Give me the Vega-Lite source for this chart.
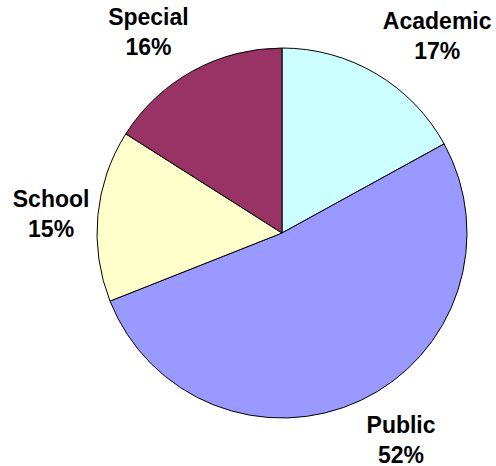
{
  "$schema": "https://vega.github.io/schema/vega-lite/v6.json",
  "width": 428,
  "height": 466,
  "autosize": "none",
  "padding": {"left": 68, "top": 0, "right": 0, "bottom": 0},
  "background": "white",
  "view": {"stroke": null},
  "data": {
    "values": [
      {"idx": 1, "category": "Academic", "value": 17, "label": "Academic\n17%"},
      {"idx": 2, "category": "Public", "value": 52, "label": "Public\n52%"},
      {"idx": 3, "category": "School", "value": 15, "label": "School\n15%"},
      {"idx": 4, "category": "Special", "value": 16, "label": "Special\n16%"}
    ]
  },
  "encoding": {
    "theta": {"field": "value", "type": "quantitative", "stack": true},
    "order": {"field": "idx", "type": "quantitative"}
  },
  "layer": [
    {
      "mark": {"type": "arc", "outerRadius": 185, "stroke": "black", "strokeWidth": 1},
      "encoding": {
        "color": {
          "field": "category",
          "type": "nominal",
          "scale": {
            "domain": ["Academic", "Public", "School", "Special"],
            "range": ["#CCFFFF", "#9999FF", "#FFFFCC", "#993366"]
          },
          "legend": null
        }
      }
    },
    {
      "mark": {"type": "text", "radius": 242, "dx": 32, "dy": -3, "lineBreak": "\n", "lineHeight": 30, "font": "Liberation Sans", "fontWeight": "bold", "fontSize": 23, "color": "black"},
      "encoding": {"text": {"condition": {"test": "datum.category == 'Academic'", "field": "label"}, "value": ""}}
    },
    {
      "mark": {"type": "text", "radius": 242, "dx": 16, "dy": -26, "lineBreak": "\n", "lineHeight": 30, "font": "Liberation Sans", "fontWeight": "bold", "fontSize": 23, "color": "black"},
      "encoding": {"text": {"condition": {"test": "datum.category == 'Public'", "field": "label"}, "value": ""}}
    },
    {
      "mark": {"type": "text", "radius": 242, "dx": 10, "dy": -10, "lineBreak": "\n", "lineHeight": 30, "font": "Liberation Sans", "fontWeight": "bold", "fontSize": 23, "color": "black"},
      "encoding": {"text": {"condition": {"test": "datum.category == 'School'", "field": "label"}, "value": ""}}
    },
    {
      "mark": {"type": "text", "radius": 242, "dx": -17, "dy": -3, "lineBreak": "\n", "lineHeight": 30, "font": "Liberation Sans", "fontWeight": "bold", "fontSize": 23, "color": "black"},
      "encoding": {"text": {"condition": {"test": "datum.category == 'Special'", "field": "label"}, "value": ""}}
    }
  ]
}
